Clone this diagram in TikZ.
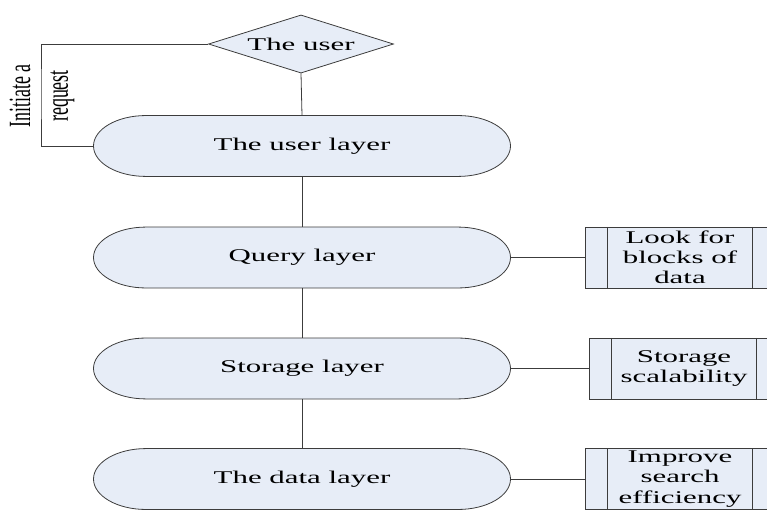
\documentclass[tikz,border=0pt]{standalone}
\usepackage{fontspec}
\setmainfont{Liberation Serif}
\usetikzlibrary{shapes.geometric,shapes.misc,positioning}
\definecolor{layerfill}{RGB}{231,237,247}
\definecolor{linegray}{RGB}{60,60,60}

\begin{document}
\begin{tikzpicture}[x=1bp, y=1bp, yscale=0.58,
  every node/.style={transform shape, font=\fontsize{31}{35}\selectfont},
  layer/.style={rounded rectangle, draw=linegray, fill=layerfill, line width=0.8bp, minimum width=417bp, minimum height=105bp, inner sep=0pt},
  task/.style={rectangle, draw=linegray, fill=layerfill, line width=0.8bp, minimum width=190bp, minimum height=105bp, inner sep=0pt, align=center},
  userbox/.style={diamond, aspect=1.85, draw=linegray, fill=layerfill, line width=0.8bp, minimum width=185bp, minimum height=100bp, inner sep=0pt},
  link/.style={draw=linegray, line width=0.8bp}]
\useasboundingbox (0,0) rectangle (767,-877.6);
\clip (0,0) rectangle (767,-877.6);
\node[userbox] (theuser) at (301,-75.9) {The user};
\node[layer] (userlayer) at (302,-251.7) {The user layer};
\node[layer] (query) at (302,-444) {Query layer};
\node[layer] (storage) at (302,-635.3) {Storage layer};
\node[layer] (datalayer) at (302,-825.9) {The data layer};
\node[task] (lookfor) at (680,-444) {Look for\\blocks of\\data};
\node[task] (scalable) at (684,-635.3) {Storage\\scalability};
\node[task] (improve) at (680,-825.9) {Improve\\search\\efficiency};
\coordinate (bend) at (41,-160);
\node[rotate=90, align=center, font=\fontsize{31}{38}\selectfont] (request) at (42,-165.5) {Initiate a\\request};
\draw[link] (theuser.south) -- (userlayer.north);
\draw[link] (userlayer.south) -- (query.north);
\draw[link] (query.south) -- (storage.north);
\draw[link] (storage.south) -- (datalayer.north);
\draw[link] (theuser.west) -| (bend) |- (userlayer.west);
\draw[link] (query.east) -- (lookfor.west);
\draw[link] (storage.east) -- (scalable.west);
\draw[link] (datalayer.east) -- (improve.west);
\foreach \b in {lookfor,scalable,improve} {
  \draw[link] ([xshift=23bp]\b.north west) -- ([xshift=23bp]\b.south west);
  \draw[link] ([xshift=-23bp]\b.north east) -- ([xshift=-23bp]\b.south east);
}
\end{tikzpicture}
\end{document}
